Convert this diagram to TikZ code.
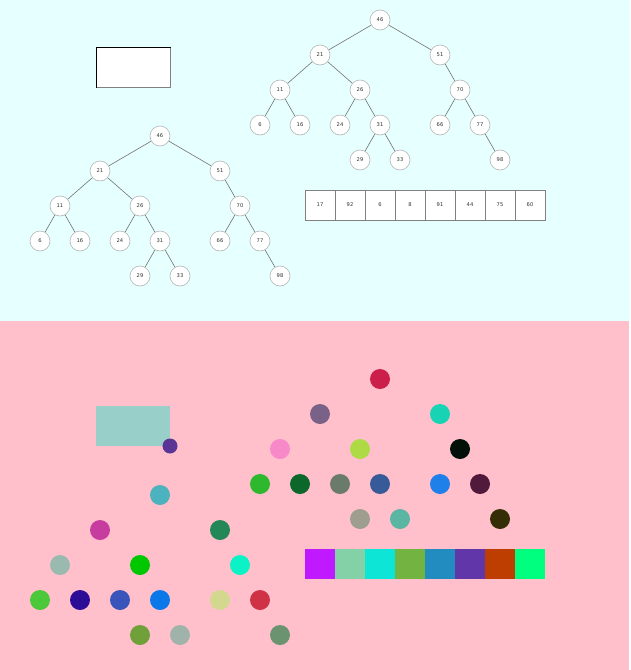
\documentclass[tikz,border=0pt]{standalone}
\usepackage{fontspec}
\setsansfont{DejaVu Sans}
\definecolor{topbg}{HTML}{E6FFFF}
\definecolor{botbg}{HTML}{FFC0CB}
\definecolor{nodeline}{HTML}{B4B4B4}
\definecolor{edgeline}{HTML}{707070}
\definecolor{txt}{HTML}{333333}
\tikzset{
  tnode/.style={circle,draw=nodeline,fill=white,line width=0.6pt,minimum size=20pt,inner sep=0pt,font=\sffamily\fontsize{5.2}{6}\selectfont,text=txt},
  tedge/.style={draw=edgeline,line width=0.6pt},
  cell/.style={rectangle,draw=gray,fill=white,line width=0.9pt,minimum width=30pt,minimum height=30pt,inner sep=0pt,font=\sffamily\fontsize{5.2}{6}\selectfont,text=txt},
  dot/.style={circle,minimum size=20pt,inner sep=0pt,draw=none},
  sq/.style={rectangle,minimum width=30pt,minimum height=30pt,inner sep=0pt,draw=none}
}
\begin{document}
\begin{tikzpicture}[x=1pt,y=-1pt]
\useasboundingbox (0,0) rectangle (630,670);
\fill[topbg] (0,0) rectangle (630,321);
\fill[botbg] (0,321) rectangle (629,670);
% ----- top: empty box with shadow
\node[rectangle,draw=black,fill=white,line width=0.8pt,minimum width=74pt,minimum height=40pt,inner sep=0pt] (box) at (133,67) {};
\draw[gray,line width=1.8pt] ([yshift=-1pt]box.north east) -- (box.south east) -- ([xshift=1pt]box.south west);
% ----- top tree A
\foreach \n/\x/\y in {46/380/20,21/320/55,51/440/55,11/280/90,26/360/90,70/460/90,6/260/125,16/300/125,24/340/125,31/380/125,66/440/125,77/480/125,29/360/160,33/400/160,98/500/160}
  {\node[tnode] (a\n) at (\x,\y) {\n};}
\foreach \p/\c in {46/21,46/51,21/11,21/26,11/6,11/16,26/24,26/31,31/29,31/33,51/70,70/66,70/77,77/98}
  {\draw[tedge] (a\p) -- (a\c);}
% ----- top tree B
\foreach \n/\x/\y in {46/160/136,21/100/171,51/220/171,11/60/206,26/140/206,70/240/206,6/40/241,16/80/241,24/120/241,31/160/241,66/220/241,77/260/241,29/140/276,33/180/276,98/280/276}
  {\node[tnode] (b\n) at (\x,\y) {\n};}
\foreach \p/\c in {46/21,46/51,21/11,21/26,11/6,11/16,26/24,26/31,31/29,31/33,51/70,70/66,70/77,77/98}
  {\draw[tedge] (b\p) -- (b\c);}
% ----- array
\foreach \v [count=\i] in {17,92,6,8,91,44,75,60}
  {\node[cell] (c\i) at ({290+30*\i},205) {\v};}
% ----- bottom: colour map
\node[rectangle,fill={rgb,255:red,153;green,207;blue,201},minimum width=74pt,minimum height=40pt,inner sep=0pt] (pbox) at (133,426) {};
\node[circle,fill={rgb,255:red,91;green,53;blue,149},minimum size=15pt,inner sep=0pt] (phandle) at (170,446) {};
\foreach \n/\x/\y/\col in {46/380/379/CC1E4A,21/320/414/7A6188,51/440/414/18D4B4,11/280/449/F889C8,26/360/449/AEDB45,70/460/449/000F08,6/260/484/2DB82E,16/300/484/0C672B,24/340/484/6A7B6C,31/380/484/375A98,66/440/484/1F80E9,77/480/484/501A3D,29/360/519/9D9E8E,33/400/519/5AB5A2,98/500/519/352D05}
  {\definecolor{tmpc}{HTML}{\col}\node[dot,fill=tmpc] (pa\n) at (\x,\y) {};}
\foreach \n/\x/\y/\col in {46/160/495/4BB2BE,21/100/530/C63D9F,51/220/530/238757,11/60/565/9BBAAF,26/140/565/00C700,70/240/565/0AF2C6,6/40/600/4BC83A,16/80/600/2E0D96,24/120/600/3954BA,31/160/600/0A78E8,66/220/600/D2D88D,77/260/600/CF3245,29/140/635/6FA03A,33/180/635/A0B3AA,98/280/635/6C9370}
  {\definecolor{tmpc}{HTML}{\col}\node[dot,fill=tmpc] (pb\n) at (\x,\y) {};}
\foreach \col [count=\i] in {C018FF,84D1A8,0DE6D6,72B342,228BBF,6036A9,BD3E00,00FF7F}
  {\definecolor{tmpc}{HTML}{\col}\node[sq,fill=tmpc] (pc\i) at ({290+30*\i},564) {};}
\end{tikzpicture}
\end{document}
